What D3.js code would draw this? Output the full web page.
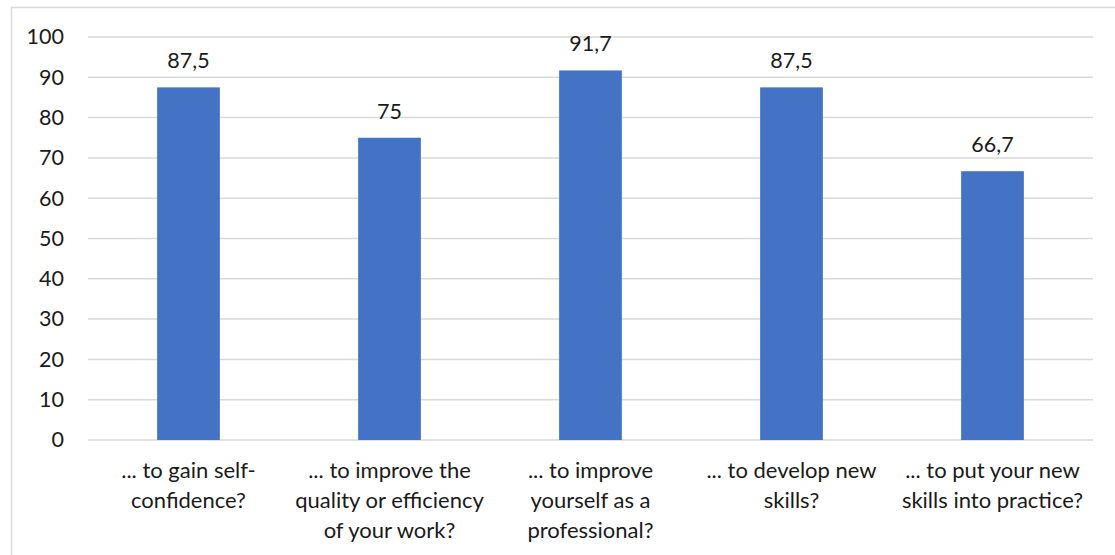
<!DOCTYPE html>
<html>
<head>
<meta charset="utf-8">
<script src="https://cdn.jsdelivr.net/npm/d3@7"></script>
<style>
  html, body { margin: 0; padding: 0; background: #fff; }
  svg { display: block; }
  text { font-family: Lato, "Open Sans", sans-serif; fill: #1a1a1a; }
</style>
</head>
<body>
<script>
const categories = [
  "... to gain self-|confidence?",
  "... to improve the|quality or efficiency|of your work?",
  "... to improve|yourself as a|professional?",
  "... to develop new|skills?",
  "... to put your new|skills into practice?"
];
const values = [87.5, 75, 91.7, 87.5, 66.7];
const yTicks = [0, 10, 20, 30, 40, 50, 60, 70, 80, 90, 100];

const W = 1115, H = 555;
const svg = d3.select("body").append("svg").attr("width", W).attr("height", H);

// chart frame (extends beyond the picture on right and bottom)
svg.append("rect")
  .attr("x", 11.5).attr("y", 7.5)
  .attr("width", 1200).attr("height", 700)
  .attr("fill", "none").attr("stroke", "#d9d9d9").attr("stroke-width", 1.5);

const x = d3.scaleBand().domain(categories).range([88, 1093])
  .paddingInner(0.688).paddingOuter(0.344);
const y = d3.scaleLinear().domain([0, 100]).range([440, 37]);

// gridlines
svg.append("g").selectAll("line").data(yTicks).join("line")
  .attr("x1", 88).attr("x2", 1093)
  .attr("y1", d => y(d)).attr("y2", d => y(d))
  .attr("stroke", "#d9d9d9").attr("stroke-width", 1.5);

// y axis labels
const yAxis = d3.axisLeft(y).tickValues(yTicks).tickSize(0).tickPadding(0);
const gy = svg.append("g").attr("transform", "translate(64,0)").call(yAxis);
gy.select(".domain").remove();
gy.selectAll("text").attr("font-size", 21.5).style("font-family", "Lato, 'Open Sans', sans-serif").attr("fill", "#1a1a1a");

// bars
svg.append("g").selectAll("rect").data(values).join("rect")
  .attr("x", (d, i) => x(categories[i]))
  .attr("width", x.bandwidth())
  .attr("y", d => y(d))
  .attr("height", d => y(0) - y(d))
  .attr("fill", "#4472c4");

// value labels
const fmt = d => String(d).replace(".", ",");
svg.append("g").selectAll("text").data(values).join("text")
  .attr("x", (d, i) => x(categories[i]) + x.bandwidth() / 2)
  .attr("y", d => y(d) - 19)
  .attr("text-anchor", "middle")
  .attr("font-size", 21.5)
  .text(fmt);

// x labels
const xl = svg.append("g").selectAll("text").data(categories).join("text")
  .attr("x", d => x(d) + x.bandwidth() / 2)
  .attr("y", 478)
  .attr("text-anchor", "middle")
  .attr("font-size", 22);
xl.each(function(d) {
  const t = d3.select(this);
  d.split("|").forEach((line, i) => {
    t.append("tspan").attr("x", x(d) + x.bandwidth() / 2).attr("dy", i === 0 ? 0 : 30).text(line);
  });
});
</script>
</body>
</html>
